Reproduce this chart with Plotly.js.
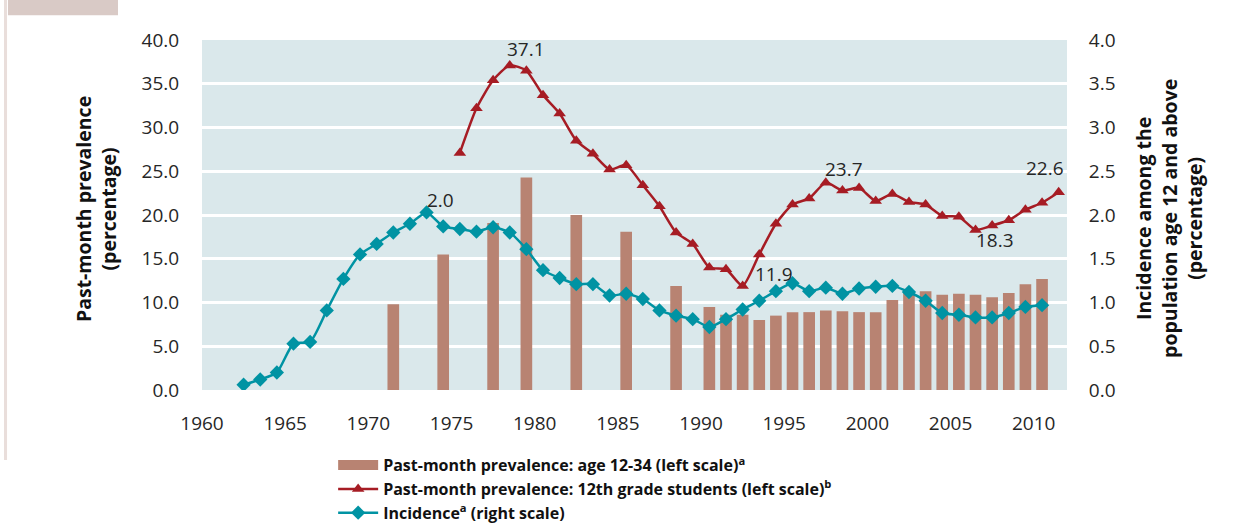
<!DOCTYPE html>
<html>
<head>
<meta charset="utf-8">
<script src="https://cdn.plot.ly/plotly-3.0.1.min.js"></script>
<style>
  html, body { margin: 0; padding: 0; background: #ffffff; }
  #chart { width: 1260px; height: 523px; }
</style>
</head>
<body>
<div id="chart"></div>
<script>
// ---------------- data ----------------
const barYears = [1971, 1974, 1977, 1979, 1982, 1985, 1988, 1990, 1991, 1992, 1993, 1994,
  1995, 1996, 1997, 1998, 1999, 2000, 2001, 2002, 2003, 2004, 2005, 2006, 2007, 2008, 2009, 2010];
const barValues = [9.8, 15.5, 19.1, 24.3, 20.0, 18.1, 11.9, 9.5, 8.6, 8.6, 8.0, 8.5,
  8.9, 8.9, 9.1, 9.0, 8.9, 8.9, 10.3, 11.2, 11.3, 10.9, 11.0, 10.9, 10.6, 11.1, 12.1, 12.7];

const gradeYears = [1975, 1976, 1977, 1978, 1979, 1980, 1981, 1982, 1983, 1984, 1985, 1986,
  1987, 1988, 1989, 1990, 1991, 1992, 1993, 1994, 1995, 1996, 1997, 1998, 1999, 2000,
  2001, 2002, 2003, 2004, 2005, 2006, 2007, 2008, 2009, 2010, 2011];
const gradeValues = [27.1, 32.2, 35.4, 37.1, 36.5, 33.7, 31.6, 28.5, 27.0, 25.2, 25.7, 23.4,
  21.0, 18.0, 16.7, 14.0, 13.8, 11.9, 15.5, 19.0, 21.2, 21.9, 23.7, 22.8, 23.1, 21.6,
  22.4, 21.5, 21.2, 19.9, 19.8, 18.3, 18.8, 19.4, 20.6, 21.4, 22.6];

const incYears = [1962, 1963, 1964, 1965, 1966, 1967, 1968, 1969, 1970, 1971, 1972, 1973,
  1974, 1975, 1976, 1977, 1978, 1979, 1980, 1981, 1982, 1983, 1984, 1985, 1986, 1987,
  1988, 1989, 1990, 1991, 1992, 1993, 1994, 1995, 1996, 1997, 1998, 1999, 2000, 2001,
  2002, 2003, 2004, 2005, 2006, 2007, 2008, 2009, 2010];
const incValues = [0.06, 0.12, 0.20, 0.53, 0.55, 0.91, 1.27, 1.55, 1.67, 1.80, 1.90, 2.03,
  1.87, 1.84, 1.81, 1.86, 1.80, 1.61, 1.37, 1.28, 1.21, 1.21, 1.08, 1.10, 1.04, 0.91,
  0.85, 0.81, 0.72, 0.81, 0.92, 1.02, 1.13, 1.22, 1.13, 1.17, 1.10, 1.16, 1.18, 1.19,
  1.12, 1.02, 0.88, 0.86, 0.83, 0.83, 0.88, 0.95, 0.97];

const xTickYears = [1960, 1965, 1970, 1975, 1980, 1985, 1990, 1995, 2000, 2005, 2010];
const xTickLabels = ['1960', '1965', '1970', '1975', '1980', '1985', '1990', '1995', '2000', '2005', '2010'];
const xMajorTickYears = [1960, 1970, 1980, 1990, 2000, 2010];

const seriesNames = [
  'Past-month prevalence: age 12-34 (left scale)<sup>a</sup>',
  'Past-month prevalence: 12th grade students (left scale)<sup>b</sup>',
  'Incidence<sup>a</sup> (right scale)'
];
const leftAxisTitle = 'Past-month prevalence<br>(percentage)';
const rightAxisTitle = 'Incidence among the<br>population age 12 and above<br>(percentage)';

// labelled points
const gradeLabelYears = [1978, 1992, 1997, 2006, 2011];
const incLabelYears = [1973];

// ---------------- styles ----------------
const BAR_COLOR = '#B88372';
const RED = '#A61C24';
const TEAL = '#0093A3';
const TXT = '#262626';
const FONT = 'Open Sans, Noto Sans, sans-serif';

const traces = [
  {
    type: 'bar', x: barYears, y: barValues, name: seriesNames[0],
    marker: { color: BAR_COLOR }, width: 0.7, showlegend: false,
    xaxis: 'x', yaxis: 'y', hoverinfo: 'x+y'
  },
  { // legend swatch for the bar series (wide rectangle as in the source)
    type: 'scatter', mode: 'lines', x: [null], y: [null], name: seriesNames[0],
    line: { color: BAR_COLOR, width: 15 }, xaxis: 'x', yaxis: 'y', legendrank: 1
  },
  {
    type: 'scatter', mode: 'lines+markers', x: incYears, y: incValues, name: seriesNames[2],
    line: { color: TEAL, width: 2.5, shape: 'spline', smoothing: 0.6 },
    marker: { symbol: 'diamond', size: 11, color: TEAL },
    xaxis: 'x', yaxis: 'y2', legendrank: 3
  },
  {
    type: 'scatter', mode: 'lines+markers', x: gradeYears, y: gradeValues, name: seriesNames[1],
    line: { color: RED, width: 2.5, shape: 'spline', smoothing: 0.6 },
    marker: { symbol: 'triangle-up', size: 11, color: RED },
    xaxis: 'x', yaxis: 'y', legendrank: 2
  }
];

// data labels (offsets in px: right, down)
const labelOffsets = {
  1978: [16, -16], 1992: [31, -12], 1997: [18, -14], 2006: [19, 10], 2011: [-14, -24]
};
const titleFont = { family: FONT, size: 19.5, color: '#111', weight: 700 };
const annotations = [
  { xref: 'paper', yref: 'paper', x: -0.1225, y: 0.517, xanchor: 'center', yanchor: 'middle',
    textangle: -90, text: leftAxisTitle, showarrow: false, font: titleFont },
  { xref: 'paper', yref: 'paper', x: 1.118, y: 0.489, xanchor: 'center', yanchor: 'middle',
    textangle: -90, text: rightAxisTitle, showarrow: false, font: titleFont }
];
gradeLabelYears.forEach(yr => {
  const i = gradeYears.indexOf(yr);
  annotations.push({
    x: gradeYears[i], y: gradeValues[i], xref: 'x', yref: 'y',
    text: gradeValues[i].toFixed(1), showarrow: false,
    xshift: labelOffsets[yr][0], yshift: -labelOffsets[yr][1],
    font: { family: FONT, size: 19, color: TXT }
  });
});
incLabelYears.forEach(yr => {
  const i = incYears.indexOf(yr);
  annotations.push({
    x: incYears[i], y: incValues[i], xref: 'x', yref: 'y2',
    text: incValues[i].toFixed(1), showarrow: false,
    xshift: 14, yshift: 12,
    font: { family: FONT, size: 19, color: TXT }
  });
});

const axisFont = { family: FONT, size: 19, color: TXT };

const layout = {
  width: 1260, height: 523,
  margin: { l: 202, r: 193, t: 40, b: 133, pad: 0, autoexpand: false },
  paper_bgcolor: '#ffffff',
  plot_bgcolor: '#DAE8EB',
  font: { family: FONT, color: TXT },
  showlegend: true,
  barmode: 'overlay',
  xaxis: {
    range: [1959.5, 2011.5],
    tickmode: 'array',
    tickvals: xTickYears.map(y => y - 0.5),
    ticktext: xTickLabels,
    ticks: 'outside', ticklen: 16, tickcolor: 'rgba(0,0,0,0)',
    tickfont: axisFont,
    showgrid: false, zeroline: false, showline: false,
    fixedrange: true
  },
  xaxis2: {
    overlaying: 'x', anchor: 'y', side: 'bottom',
    range: [1959.5, 2011.5],
    tickmode: 'array',
    tickvals: xMajorTickYears.map(y => y - 0.5),
    ticks: 'outside', ticklen: 7, tickcolor: '#E3E3E3', tickwidth: 1,
    showticklabels: false, showgrid: false, zeroline: false, showline: false
  },
  yaxis: {
    range: [0, 40], dtick: 5, tick0: 0, tickformat: '.1f',
    ticks: 'outside', ticklen: 18, tickcolor: 'rgba(0,0,0,0)',
    tickfont: axisFont,
    showgrid: true, gridcolor: '#ffffff', gridwidth: 3,
    zeroline: false, showline: false
  },
  yaxis2: {
    overlaying: 'y', side: 'right',
    range: [0, 4], dtick: 0.5, tick0: 0, tickformat: '.1f',
    ticks: 'outside', ticklen: 17, tickcolor: 'rgba(0,0,0,0)',
    tickfont: axisFont,
    showgrid: false, zeroline: false, showline: false
  },
  legend: {
    xref: 'container', yref: 'container',
    x: 0.2644, xanchor: 'left', y: 0.143, yanchor: 'top',
    orientation: 'v', traceorder: 'normal',
    bgcolor: 'rgba(0,0,0,0)',
    font: { family: FONT, size: 16, color: '#111', weight: 700 },
    itemwidth: 40, tracegroupgap: 0
  },
  annotations: annotations,
  shapes: [
    { type: 'rect', xref: 'paper', yref: 'paper', x0: -0.2243, x1: -0.0971, y0: 1.071, y1: 1.2,
      line: { width: 0 }, fillcolor: '#D9CAC6', layer: 'above' },
    { type: 'rect', xref: 'paper', yref: 'paper', x0: -0.2289, x1: -0.2254, y0: -0.2, y1: 1.2,
      line: { width: 0 }, fillcolor: '#E9DEDB', layer: 'below' }
  ]
};

Plotly.newPlot('chart', traces, layout, { displayModeBar: false, staticPlot: true });
</script>
</body>
</html>
